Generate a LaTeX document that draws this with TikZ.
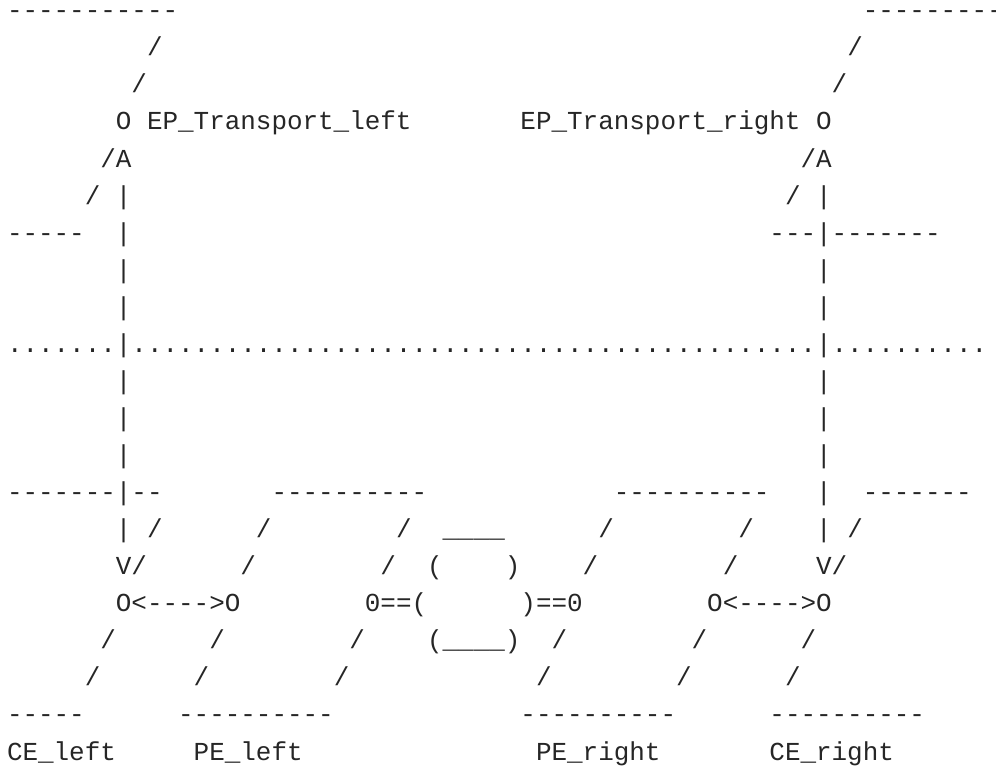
\documentclass[tikz,border=0pt]{standalone}
\usepackage{fontspec}
\setmonofont{Liberation Mono}
\def\EPleft{EP\_Transport\_left}
\def\EPright{EP\_Transport\_right}
\def\CEleft{CE\_left}
\def\PEleft{PE\_left}
\def\PEright{PE\_right}
\def\CEright{CE\_right}
\newcommand{\art}[4]{\node[asc] (#1) at (#2,#3) {#4}}

\begin{document}
\begin{tikzpicture}[x=15.56pt, y=-37.06pt,
                    asc/.style={
                        anchor=base west,
                        inner sep=0pt, outer sep=0pt,
                        font=\ttfamily\fontsize{25.93pt}{30pt}\selectfont,
                        text=black!85
                    }]
    \useasboundingbox (-0.45,-0.507) rectangle (63.56,20.19);

    % upper domains and transport end points
    \art{topl}{0}{0}{-----------};
    \art{topr}{55}{0}{---------};
    \art{sl1}{9}{1}{/};
    \art{sr1}{54}{1}{/};
    \art{sl2}{8}{2}{/};
    \art{sr2}{53}{2}{/};
    \art{epl}{7}{3}{O};
    \art{epllab}{9}{3}{\EPleft};
    \art{eprlab}{33}{3}{\EPright};
    \art{epr}{52}{3}{O};
    \art{al}{6}{4}{/A};
    \art{ar}{51}{4}{/A};
    \art{sl5}{5}{5}{/};
    \art{vl5}{7}{5}{|};
    \art{sr5}{50}{5}{/};
    \art{vr5}{52}{5}{|};
    \art{midl}{0}{6}{-----};
    \art{vl6}{7}{6}{|};
    \art{midr}{49}{6}{---|-------};
    \art{vl7}{7}{7}{|};
    \art{vr7}{52}{7}{|};
    \art{vl8}{7}{8}{|};
    \art{vr8}{52}{8}{|};

    % layer boundary
    \art{dots}{0}{9}{.......|............................................|..........};

    \art{vl10}{7}{10}{|};
    \art{vr10}{52}{10}{|};
    \art{vl11}{7}{11}{|};
    \art{vr11}{52}{11}{|};
    \art{vl12}{7}{12}{|};
    \art{vr12}{52}{12}{|};

    % lower domains, CE/PE and the network cloud
    \art{botl}{0}{13}{-------|--};
    \art{pel}{17}{13}{----------};
    \art{per}{39}{13}{----------};
    \art{vr13}{52}{13}{|};
    \art{botr}{55}{13}{-------};
    \art{vl14}{7}{14}{|};
    \art{s14a}{9}{14}{/};
    \art{s14b}{16}{14}{/};
    \art{s14c}{25}{14}{/};
    \art{cloudtop}{28}{14}{\_\_\_\_};
    \art{s14d}{38}{14}{/};
    \art{s14e}{47}{14}{/};
    \art{vr14}{52}{14}{|};
    \art{s14f}{54}{14}{/};
    \art{vl}{7}{15}{V/};
    \art{s15b}{15}{15}{/};
    \art{s15c}{24}{15}{/};
    \art{cloudl}{27}{15}{(};
    \art{cloudr}{32}{15}{)};
    \art{s15d}{37}{15}{/};
    \art{s15e}{46}{15}{/};
    \art{vr}{52}{15}{V/};
    \art{linkl}{7}{16}{O<---->O};
    \art{nwl}{23}{16}{0==(};
    \art{nwr}{33}{16}{)==0};
    \art{linkr}{45}{16}{O<---->O};
    \art{s17a}{6}{17}{/};
    \art{s17b}{13}{17}{/};
    \art{s17c}{22}{17}{/};
    \art{cloudbot}{27}{17}{(\_\_\_\_)};
    \art{s17d}{35}{17}{/};
    \art{s17e}{44}{17}{/};
    \art{s17f}{51}{17}{/};
    \art{s18a}{5}{18}{/};
    \art{s18b}{12}{18}{/};
    \art{s18c}{21}{18}{/};
    \art{s18d}{34}{18}{/};
    \art{s18e}{43}{18}{/};
    \art{s18f}{50}{18}{/};
    \art{cebox}{0}{19}{-----};
    \art{pelbox}{11}{19}{----------};
    \art{perbox}{33}{19}{----------};
    \art{cerbox}{49}{19}{----------};
    \art{cel}{0}{20}{\CEleft};
    \art{pell}{12}{20}{\PEleft};
    \art{perl}{34}{20}{\PEright};
    \art{cer}{49}{20}{\CEright};
\end{tikzpicture}
\end{document}
